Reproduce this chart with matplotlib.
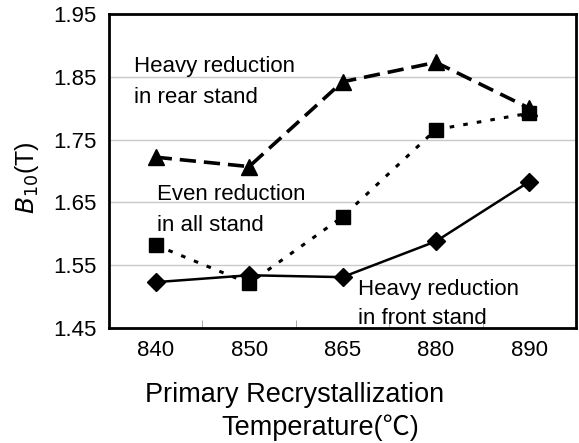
import numpy as np
import matplotlib.pyplot as plt

plt.rcParams['font.family'] = ['Liberation Sans', 'Noto Sans CJK KR', 'DejaVu Sans']

temps = ['840', '850', '865', '880', '890']
rear = [1.722, 1.707, 1.842, 1.873, 1.800]
even = [1.582, 1.521, 1.627, 1.766, 1.792]
front = [1.523, 1.534, 1.531, 1.588, 1.683]

fig = plt.figure(figsize=(5.79, 4.43), dpi=100)
ax = fig.add_axes([109/579, 1-328/443, (576-109)/579, (328-14)/443])

x = np.arange(len(temps)) + 0.5
ax.plot(x, rear, color='black', lw=2.6, ls=(0, (4.5, 2.2)), marker='^', ms=12, zorder=3)
ax.plot(x, even, color='black', lw=2.2, ls=(0, (1.5, 3)), marker='s', ms=10, zorder=3)
ax.plot(x, front, color='black', lw=1.8, ls='-', marker='D', ms=9, zorder=3)

ax.set_xlim(0, 5)
ax.set_ylim(1.45, 1.95)
ax.set_yticks([1.45, 1.55, 1.65, 1.75, 1.85, 1.95])
ax.set_yticklabels(['1.45', '1.55', '1.65', '1.75', '1.85', '1.95'], fontsize=16)
ax.set_xticks(x)
ax.set_xticklabels(temps, fontsize=16)
ax.set_xticks([1, 2, 3, 4], minor=True)
ax.tick_params(axis='x', which='major', length=0, pad=9)
ax.tick_params(axis='x', which='minor', direction='in', length=6, color='#999999')
ax.tick_params(axis='y', length=0, pad=9)
ax.grid(axis='y', color='#c8c8c8', lw=1)
ax.set_axisbelow(True)
for s in ax.spines.values():
    s.set_linewidth(2)

ax.set_ylabel(r'$\mathit{B}_{\mathrm{10}}$(T)', fontsize=18)
ax.yaxis.set_label_coords(-0.145, 0.48)

ax.text(0.27, 1.842, 'Heavy reduction\nin rear stand', fontsize=16, va='center', linespacing=1.6)
ax.text(0.51, 1.638, 'Even reduction\nin all stand', fontsize=16, va='center', linespacing=1.6)
ax.text(2.67, 1.488, 'Heavy reduction\nin front stand', fontsize=16, va='center', linespacing=1.5)

fig.text(295/579, 1-395/443, 'Primary Recrystallization', fontsize=19.5, ha='center', va='center')
fig.text(320/579, 1-428/443, 'Temperature(℃)', fontsize=19.5, ha='center', va='center')

fig.savefig('out.png', dpi=100)
